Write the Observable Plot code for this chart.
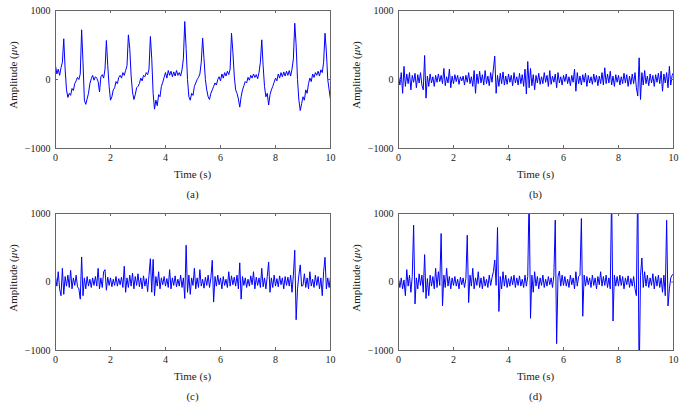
<!DOCTYPE html>
<html><head><meta charset="utf-8">
<script src="https://cdn.jsdelivr.net/npm/d3@7"></script>
<script src="https://cdn.jsdelivr.net/npm/@observablehq/plot@0.6"></script>
<style>
body{margin:0;background:#fff;}
#root{position:relative;width:685px;height:408px;font-family:"Liberation Serif",serif;color:#222;overflow:hidden;}
.panel{position:absolute;}
.lbl{position:absolute;font-size:11px;white-space:nowrap;transform:translate(-50%,-50%);}
.ylbl{position:absolute;font-size:11px;white-space:nowrap;transform:translate(-50%,-50%) rotate(-90deg);}
</style></head><body><div id="root"></div>
<script>
const sampleStep = 0.05; // seconds between samples
const xTicks = [0, 2, 4, 6, 8, 10];
const yTicks = [-1000, 0, 1000];
const yTickLabels = ["\u22121000", "0", "1000"];
const captions = ["(a)", "(b)", "(c)", "(d)"];

const signalA = [
  200, 80, 150, 60, 170, 250, 590, 150, -150, -260,
  -200, -230, -130, -160, -60, -20, 30, 0, 80, 720,
  250, -300, -360, -280, -200, -60, 10, 60, -10, 40,
  20, -30, -180, 40, 70, 20, 150, 565, 200, -100,
  -300, -250, -150, -120, -30, -60, 30, 60, 20, 100,
  60, 130, 200, 647, 450, 50, -180, -290, -220, -120,
  -100, -60, 20, -20, 60, 40, 100, 70, 150, 623,
  300, -200, -430, -300, -380, -220, -250, -100, -40, 30,
  100, 20, 130, 60, 120, 40, 110, 50, 130, 60,
  100, 50, 140, 300, 840, 450, 0, -250, -300, -200,
  -230, -100, -50, 0, 30, 80, 250, 600, 300, 0,
  -150, -250, -290, -200, -150, -100, -50, -80, 0, 40,
  -20, 80, 20, 100, 50, 120, 70, 150, 671, 400,
  50, -150, -200, -280, -400, -250, -150, -90, -30, -50,
  30, -10, 60, 20, 80, 30, 70, 10, 100, 250,
  575, 200, -100, -250, -200, -370, -220, -150, -100, -40,
  20, -20, 80, 20, 100, 40, 110, 50, 120, 60,
  130, 50, 150, 300, 816, 500, 0, -300, -450, -350,
  -250, -300, -150, -200, -60, 20, -30, 80, 30, 100,
  60, 120, 50, 140, 100, 250, 671, 400, 0, -150,
  -290
];

const signalB = [
  50, -80, 100, -200, 190, -100, 80, -60, 100, -150,
  60, -40, 90, -120, 70, -50, 100, -80, -150, 348,
  -270, 50, -100, 80, -50, 40, -100, 60, -40, 80,
  -30, 60, -60, 160, -90, 40, -50, 150, -120, 50,
  -60, 70, -30, 60, -70, 40, -20, 50, -80, 60,
  -40, 100, -60, 40, -100, 130, -200, 80, -60, 120,
  -50, 70, -80, 130, -60, 50, -90, 100, -40, 150,
  338, -200, 60, -100, 90, -60, 110, -80, 50, -70,
  80, -40, 60, -90, 100, -50, 40, -80, 90, -60,
  70, -100, 150, -210, 260, -120, 160, -90, 70, -150,
  60, -50, 90, -70, 40, -60, 100, -40, 60, -100,
  130, -70, 50, -40, 80, -120, 100, -50, 40, -80,
  60, -30, 80, -60, 40, -90, 60, -40, 150, -170,
  100, -60, 50, -80, 70, -40, 90, -100, 60, -50,
  40, -70, 80, -40, 60, -90, 50, -60, 100, -80,
  170, -60, 80, -50, 120, -80, 50, -100, 70, -40,
  60, -80, 40, -60, 90, -50, 70, -100, 50, -70,
  80, -60, 100, -120, -240, 314, -290, 100, -80, 130,
  -60, 50, -90, 80, -50, 60, -100, 70, -40, 90,
  -60, 120, -170, 80, -50, 100, -120, 190, -80, 60,
  100
];

const signalC = [
  80, -60, 150, -100, -200, 200, -180, 80, -60, 100,
  -80, 170, -100, 60, -50, 100, -70, -100, -250, 366,
  -200, 60, -100, 80, -60, 40, -80, 60, -50, 80,
  -60, 200, -100, 60, -80, 150, 180, -120, 70, -50,
  60, -70, 40, -50, 80, -60, 50, -40, 70, -80,
  230, -150, 60, -80, 100, -60, 130, -100, 80, -50,
  120, -70, 60, -100, 90, -60, 50, -140, 100, 340,
  -150, 330, -200, 80, -60, 150, -100, 60, -40, 80,
  -60, 50, -80, 180, -100, 60, -50, 90, -70, 40,
  -60, 100, -80, 60, -240, 537, -150, 100, -180, 60,
  -50, 200, -100, 60, -80, 180, -60, 40, -90, 70,
  -50, 100, -80, 60, 317, -293, 80, -60, 100, -40,
  60, -100, 80, -50, 40, -80, 150, -60, 90, -40,
  70, -60, 100, -100, 280, -250, 80, -50, 60, -80,
  40, -60, 90, -40, 150, -100, 70, -50, 60, -80,
  200, -70, 60, -100, 80, 293, -150, 60, -80, 100,
  -60, 50, -70, 90, -40, 60, -100, 80, -50, 70,
  -60, 100, -150, 100, 464, -551, -100, 100, 250, -60,
  -50, 120, -80, 60, -100, 150, -60, 40, -80, 100,
  -50, 80, -100, 60, -200, 150, 360, -100, 60, -80,
  80
];

const signalD = [
  50, -80, 60, -100, 30, -200, 180, -60, 100, -150,
  80, 830, -320, 60, -100, 120, -50, 100, -150, 400,
  -240, 50, -200, 100, -60, 80, -100, 200, -80, 150,
  -50, 708, -350, 100, -80, 200, -60, 80, -100, 60,
  -50, 80, -60, 40, -100, 70, -40, 60, -80, 50,
  683, -300, 100, -60, 200, -100, 60, -50, 150, -80,
  60, -100, 80, -60, 40, -80, 100, -50, 60, 150,
  320, -50, 795, -430, 80, -100, 150, -60, 100, -80,
  50, -60, 80, -40, 100, -80, 60, -50, 90, -60,
  40, -80, 100, -60, 80, 1300, -530, 100, -150, 150,
  -60, 80, -100, 60, -50, 100, -80, 40, -60, 80,
  -40, 60, -80, 100, 903, -900, 80, 160, -60, 100,
  -50, 80, -60, 40, -80, 100, -40, 60, -100, 150,
  -60, 80, 100, 927, -500, 100, -60, 80, -40, 60,
  -80, 100, -50, 60, -100, 80, -40, 150, -60, 80,
  -50, 100, -80, 60, -100, 1300, -570, 100, -60, 80,
  -60, 100, -50, 80, -100, 60, -40, 90, -80, 50,
  -60, 80, -100, -200, 1500, -1500, 100, 350, -80, 150,
  -60, 100, -80, 60, -50, 120, -100, 80, -60, 100,
  -80, 60, -150, 100, -200, 900, -350, -100, 60, 100,
  120
];

const root = document.getElementById("root");
const W = 342, mL = 55, mR = 12, mT = 10, mB = 22;
const plotW = W - mL - mR;

function panel(values, caption, left, top, plotH) {
  const data = values.map((v, i) => ({t: i * sampleStep, v}));
  const tick = 3;
  const chart = Plot.plot({
    width: W,
    height: mT + plotH + mB,
    marginLeft: mL, marginRight: mR, marginTop: mT, marginBottom: mB,
    style: {fontFamily: "Liberation Serif, serif", fontSize: "10px", color: "#222", background: "transparent", overflow: "visible"},
    x: {domain: [0, 10], axis: null},
    y: {domain: [-1000, 1000], axis: null},
    marks: [
      Plot.line(data, {x: "t", y: "v", stroke: "#0000ff", strokeWidth: 1, clip: true}),
      Plot.frame({stroke: "#666", strokeWidth: 1}),
      Plot.ruleX(xTicks, {x: d => d, stroke: "#666", insetTop: plotH - tick}),
      Plot.ruleX(xTicks, {x: d => d, stroke: "#666", insetBottom: plotH - tick}),
      Plot.ruleY(yTicks, {y: d => d, stroke: "#666", insetRight: plotW - tick}),
      Plot.ruleY(yTicks, {y: d => d, stroke: "#666", insetLeft: plotW - tick}),
      Plot.axisX(xTicks, {anchor: "bottom", tickSize: 0, tickPadding: 5, label: null, fill: "#222"}),
      Plot.axisY(yTicks, {anchor: "left", tickSize: 0, tickPadding: 5, label: null, fill: "#222",
        tickFormat: d => yTickLabels[yTicks.indexOf(d)]})
    ]
  });
  const div = document.createElement("div");
  div.className = "panel";
  div.style.left = left + "px";
  div.style.top = top + "px";
  div.appendChild(chart);
  root.appendChild(div);

  const cx = left + mL + plotW / 2;
  const xl = document.createElement("div");
  xl.className = "lbl";
  xl.style.left = cx + "px";
  xl.style.top = (top + mT + plotH + 26) + "px";
  xl.textContent = "Time (s)";
  root.appendChild(xl);

  const cap = document.createElement("div");
  cap.className = "lbl";
  cap.style.left = cx + "px";
  cap.style.top = (top + mT + plotH + 46) + "px";
  cap.textContent = caption;
  root.appendChild(cap);

  const yl = document.createElement("div");
  yl.className = "ylbl";
  yl.style.left = (left + 13) + "px";
  yl.style.top = (top + mT + plotH / 2 - 4) + "px";
  yl.innerHTML = "Amplitude (<i>\u03bcv</i>)";
  root.appendChild(yl);
}

panel(signalA, captions[0], 0, 0, 138);
panel(signalB, captions[1], 343, 0, 138);
panel(signalC, captions[2], 0, 203, 137);
panel(signalD, captions[3], 343, 203, 137);
</script>
</body></html>
